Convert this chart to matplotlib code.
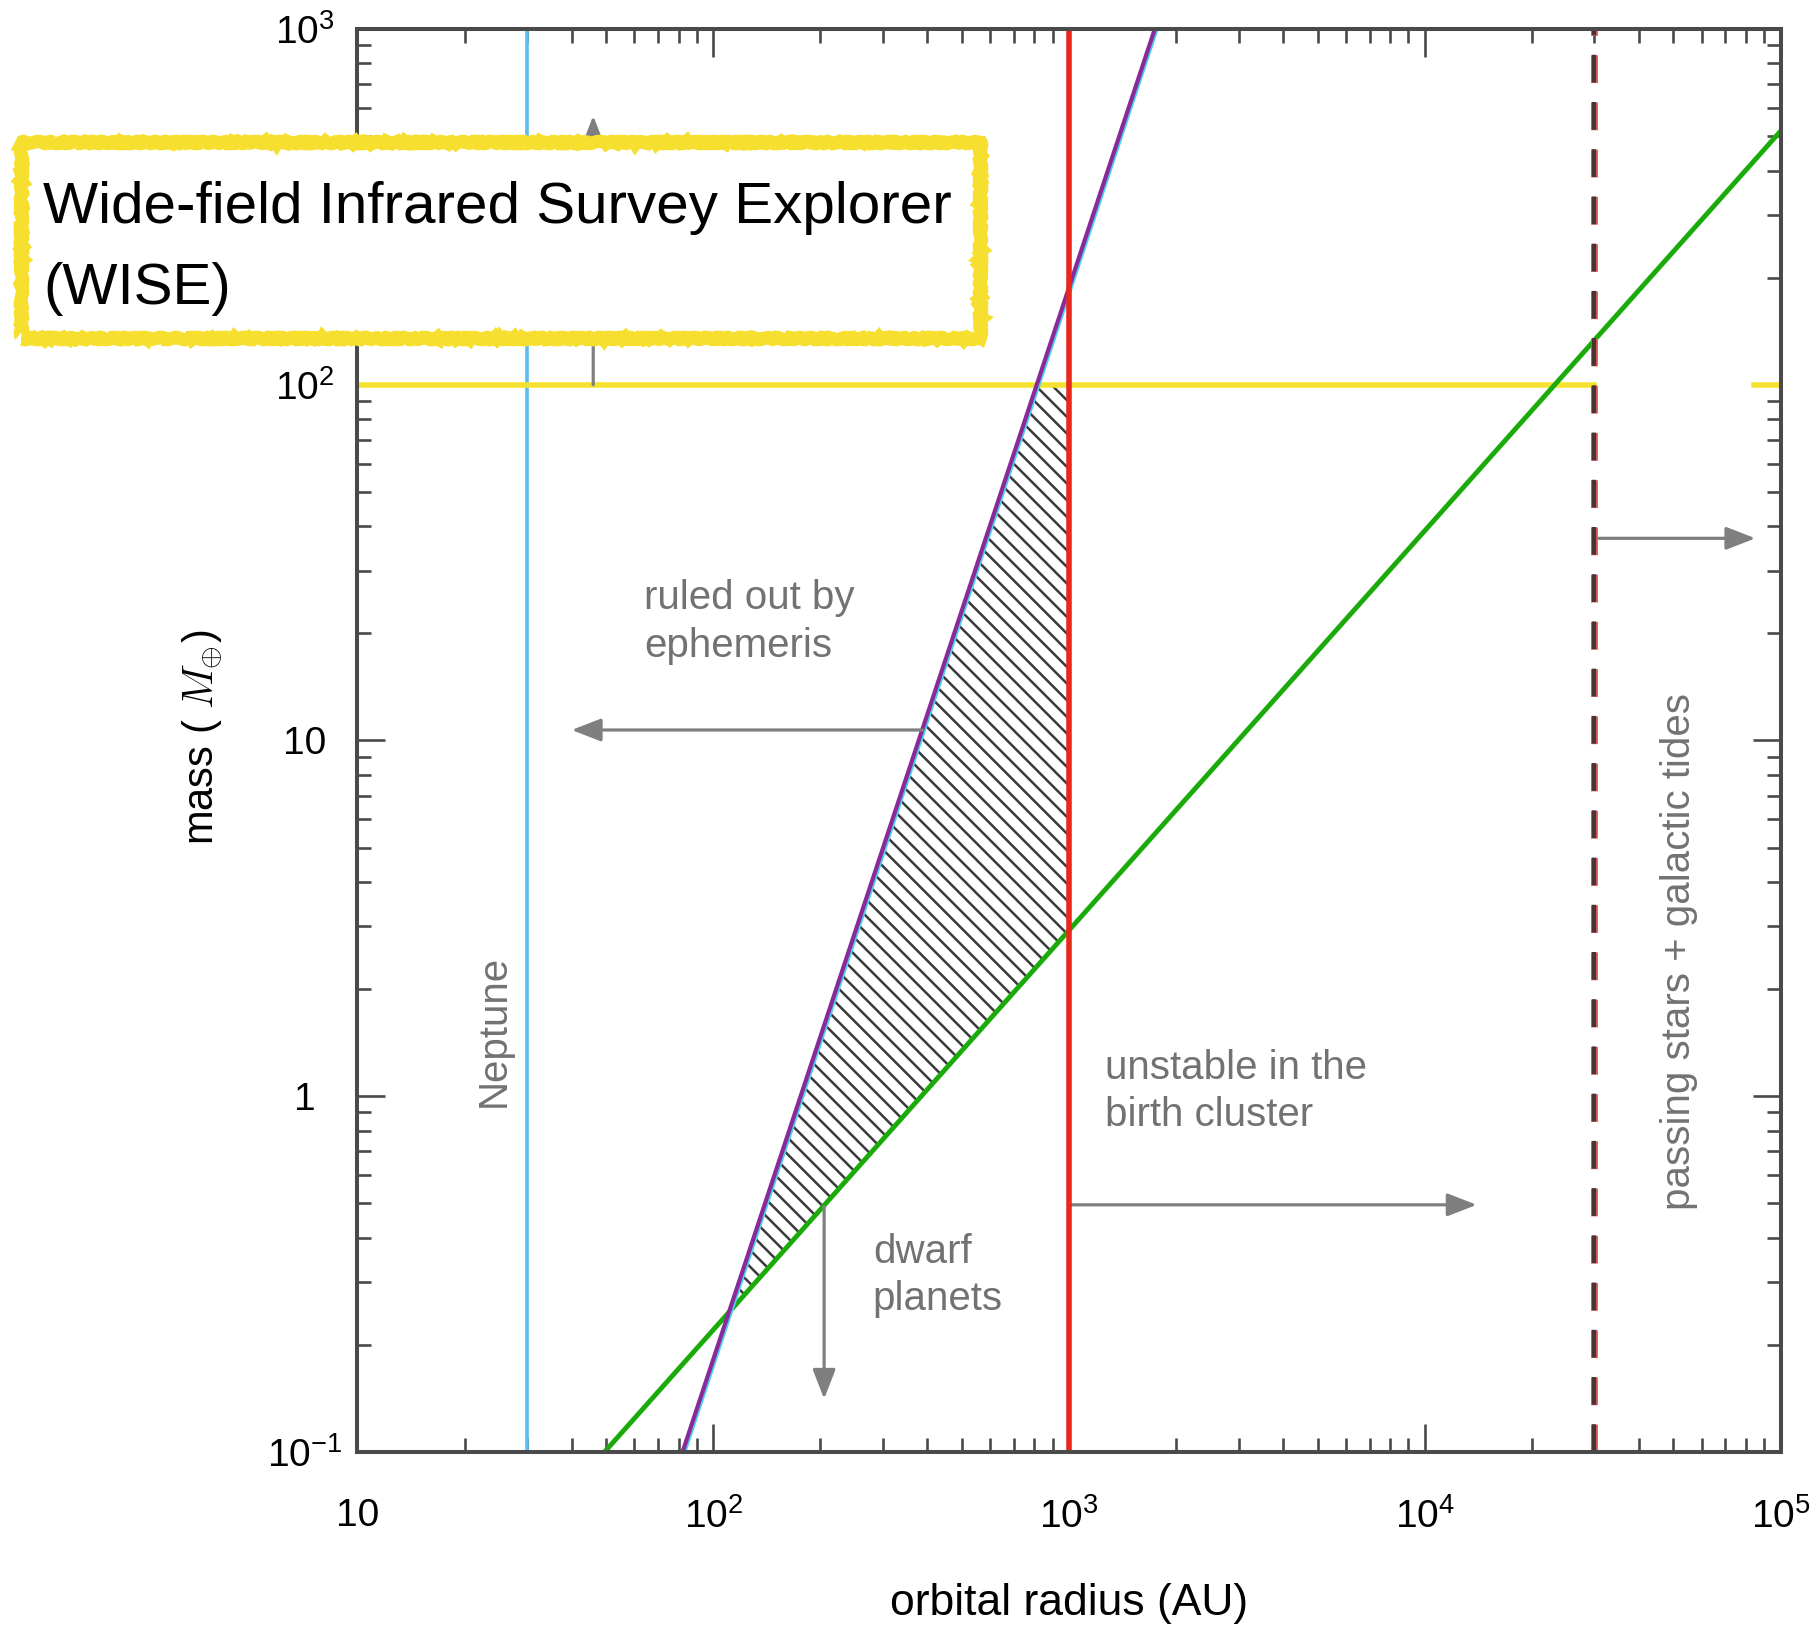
import matplotlib
matplotlib.use("Agg")
import matplotlib.pyplot as plt
import matplotlib.patheffects as pe
from matplotlib.patches import Rectangle, Polygon
from matplotlib.ticker import FixedLocator, FixedFormatter, LogLocator, NullFormatter

plt.rcParams['font.family'] = ['Liberation Sans', 'DejaVu Sans']
plt.rcParams['mathtext.fontset'] = 'custom'
plt.rcParams['mathtext.rm'] = 'Liberation Sans'
plt.rcParams['mathtext.it'] = 'Liberation Sans:italic'
plt.rcParams['lines.scale_dashes'] = False
plt.rcParams['hatch.linewidth'] = 1.8
plt.rcParams['hatch.color'] = '#3a3a3a'

# --- data (AU, Earth masses) ---
x_ticks = [10, 1e2, 1e3, 1e4, 1e5]
x_labels = ['10', '10$^2$', '10$^3$', '10$^4$', '10$^5$']
y_ticks = [0.1, 1, 10, 100, 1000]
y_labels = ['10$^{-1}$', '1', '10', '10$^2$', '10$^3$']

neptune_a = 30.0
cluster_a = 1000.0
tides_a = 3.0e4
wise_mass = 100.0

ephem_a = [82, 1743]      # ephemeris limit (purple)
ephem_m = [0.1, 1000]
dwarf_a = [49.5, 1e5]     # dwarf planet limit (green)
dwarf_m = [0.1, 516]

allowed_a = [111, 814, 1000, 1000]   # hatched region corners
allowed_m = [0.247, 100, 100, 2.93]

# arrows: (start, end)
arrow_wise = ((46, 100), (46, 570))
arrow_ephem = ((388, 10.7), (40, 10.7))
arrow_dwarf = ((205, 0.49), (205, 0.141))
arrow_cluster = ((1000, 0.495), (14000, 0.495))
arrow_tides = ((3e4, 37), (85000, 37))

grey = '#7f7f7f'
text_grey = '#727272'
spine_col = '#4a4a4a'

fig = plt.figure(figsize=(18.2, 16.27), dpi=100)
ax = fig.add_axes([0.1964, 0.1076, 0.7819, 0.8746])
ax.set_xscale('log')
ax.set_yscale('log')
ax.set_xlim(10, 1e5)
ax.set_ylim(0.1, 1000)

# hatched allowed region
ax.add_patch(Polygon(list(zip(allowed_a, allowed_m)), closed=True, facecolor='none',
                     edgecolor='#3a3a3a', linewidth=0, hatch='\\\\', zorder=1))

# lines
ax.axvline(neptune_a, color='#5bbdf2', lw=2.6, zorder=2)
ax.plot([10, tides_a], [wise_mass, wise_mass], color='#f5e22e', lw=4.0, zorder=2)
ax.plot([8.4e4, 1e5], [wise_mass, wise_mass], color='#f5e22e', lw=4.0, zorder=2)
ax.plot(dwarf_a, dwarf_m, color='#1aab0a', lw=3.5, zorder=3)
ax.plot(ephem_a, ephem_m, color='#8a2a98', lw=3.0, zorder=4,
        path_effects=[pe.SimpleLineShadow(offset=(1.3, 0), shadow_color='#4cd0ee', alpha=1, rho=1),
                      pe.Normal()])
ax.axvline(cluster_a, color='#e8281c', lw=4.0, zorder=5)
ax.axvline(tides_a, color='#f06060', lw=5.0, dashes=(20, 14), zorder=5)
ax.axvline(tides_a, color='#4a3333', lw=3.2, dashes=(20, 14), zorder=6)

# arrows
for (start, end) in [arrow_wise, arrow_ephem, arrow_dwarf, arrow_cluster, arrow_tides]:
    ax.annotate('', xy=end, xytext=start,
                arrowprops=dict(arrowstyle='-|>,head_length=0.9,head_width=0.35',
                                mutation_scale=20, color=grey, lw=2.3,
                                shrinkA=0, shrinkB=0), zorder=4)

# annotations
tkw = dict(color=text_grey, fontsize=29, linespacing=1.32)
ax.text(64, 21.5, 'ruled out by\nephemeris', ha='left', va='center', **tkw)
ax.text(24.1, 1.53, 'Neptune', rotation=90, ha='center', va='center', **tkw)
ax.text(1262, 1.03, 'unstable in the\nbirth cluster', ha='left', va='center', **tkw)
ax.text(281, 0.313, 'dwarf\nplanets', ha='left', va='center', **tkw)
ax.text(52000, 2.55, 'passing stars + galactic tides', rotation=90,
        ha='center', va='center', **tkw)

# axes styling
for s in ax.spines.values():
    s.set_linewidth(2.9)
    s.set_color(spine_col)
    s.set_zorder(7)
ax.xaxis.set_major_locator(FixedLocator(x_ticks))
ax.xaxis.set_major_formatter(FixedFormatter(x_labels))
ax.yaxis.set_major_locator(FixedLocator(y_ticks))
ax.yaxis.set_major_formatter(FixedFormatter(y_labels))
for axis in (ax.xaxis, ax.yaxis):
    axis.set_minor_locator(LogLocator(base=10, subs=range(2, 10)))
    axis.set_minor_formatter(NullFormatter())
ax.tick_params(which='both', direction='in', top=True, right=True,
               width=1.9, color=spine_col, labelsize=28, labelcolor='black')
ax.tick_params(which='major', length=20.5)
ax.tick_params(which='minor', length=10)
ax.tick_params(axis='x', which='major', pad=33)
ax.tick_params(axis='y', which='major', pad=38)
for lab in ax.get_yticklabels():
    lab.set_horizontalalignment('center')

ax.set_xlabel('orbital radius (AU)', fontsize=32, va='center')
ax.xaxis.set_label_coords(0.5, -0.1068)
ax.set_ylabel('mass ( $M_{\\oplus}$)', fontsize=30, va='center', math_fontfamily='cm')
ax.yaxis.set_label_coords(-0.1086, 0.5025)

# WISE label box
box = Rectangle((0.0115, 0.7923), 0.527, 0.1205, transform=fig.transFigure,
                facecolor='white', edgecolor='#f7df2f', linewidth=9.5, zorder=10)
box.set_sketch_params(scale=1.2, length=14, randomness=5)
fig.add_artist(box)
fig.text(0.0236, 0.8630, 'Wide-field Infrared Survey Explorer', fontsize=42,
         color='black', ha='left', va='baseline', zorder=11)
fig.text(0.0236, 0.8132, '(WISE)', fontsize=42, color='black',
         ha='left', va='baseline', zorder=11)

fig.savefig('out.png', dpi=100)
